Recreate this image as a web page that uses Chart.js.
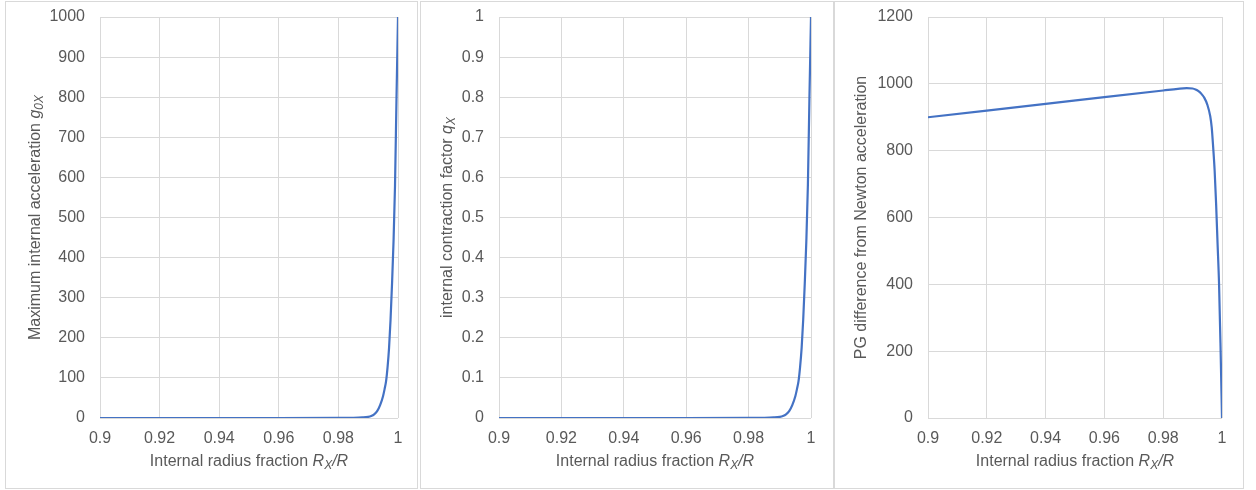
<!DOCTYPE html>
<html>
<head>
<meta charset="utf-8">
<script src="https://cdn.jsdelivr.net/npm/chart.js@4.4.1/dist/chart.umd.min.js"></script>
<style>
  body { margin: 0; background: #fff; }
  .panel { position: absolute; top: 1px; border: 1px solid #d9d9d9; background: #fff; }
  canvas { display: block; }
</style>
</head>
<body>
<div class="panel" style="left:5px"><canvas id="c1" width="411" height="486"></canvas></div>
<div class="panel" style="left:420px"><canvas id="c2" width="412" height="486"></canvas></div>
<div class="panel" style="left:834px"><canvas id="c3" width="408" height="486"></canvas></div>
<script>
// shared x axis
const xTicks = [0.9, 0.92, 0.94, 0.96, 0.98, 1];
const xTickLabels = ['0.9', '0.92', '0.94', '0.96', '0.98', '1'];

// panel 1: maximum internal acceleration
const accX = [0.9, 0.92, 0.94, 0.96, 0.98, 0.985, 0.988, 0.99, 0.991, 0.992, 0.993, 0.994, 0.995, 0.9955, 0.996, 0.9965, 0.997, 0.9975, 0.998, 0.9985, 0.999, 0.9995, 1];
const accY = [0, 0, 0, 0, 0.2, 0.6, 1.5, 3, 5, 9, 17, 32, 55, 72, 92, 127, 175, 245, 335, 440, 580, 800, 1000];
const accTicks = [0, 100, 200, 300, 400, 500, 600, 700, 800, 900, 1000];

// panel 2: internal contraction factor
const qX = [0.9, 0.92, 0.94, 0.96, 0.98, 0.985, 0.988, 0.99, 0.991, 0.992, 0.993, 0.994, 0.995, 0.9955, 0.996, 0.9965, 0.997, 0.9975, 0.998, 0.9985, 0.999, 0.9995, 1];
const qY = [0, 0, 0, 0, 0.0002, 0.0006, 0.0015, 0.003, 0.005, 0.009, 0.017, 0.032, 0.055, 0.072, 0.092, 0.127, 0.175, 0.245, 0.335, 0.44, 0.58, 0.8, 1];
const qTicks = [0, 0.1, 0.2, 0.3, 0.4, 0.5, 0.6, 0.7, 0.8, 0.9, 1];
const qTickLabels = ['0', '0.1', '0.2', '0.3', '0.4', '0.5', '0.6', '0.7', '0.8', '0.9', '1'];

// panel 3: PG difference from Newton acceleration
const pgX = [0.9, 0.92, 0.94, 0.96, 0.98, 0.985, 0.988, 0.99, 0.991, 0.992, 0.993, 0.994, 0.995, 0.996, 0.9965, 0.997, 0.9975, 0.998, 0.9985, 0.999, 0.9995, 1];
const pgY = [900, 920, 940, 960, 980, 985, 987, 986, 983, 978, 970, 958, 938, 903, 870, 810, 740, 640, 520, 400, 215, 0];
const pgTicks = [0, 200, 400, 600, 800, 1000, 1200];

const FONT = "'Liberation Sans', Arial, sans-serif";
const TEXT = '#595959';
const GRID = '#d9d9d9';

const xTitle = [
  { t: 'Internal radius fraction ' },
  { t: 'R', it: true },
  { t: 'X', it: true, sub: true },
  { t: '/', it: true },
  { t: 'R', it: true }
];

function drawRich(ctx, segs, cx, cy, rot) {
  const fontOf = s => (s.it ? 'italic ' : '') + (s.sub ? 12 : 16) + 'px ' + FONT;
  let total = 0;
  const widths = segs.map(s => {
    ctx.font = fontOf(s);
    const w = ctx.measureText(s.t).width;
    total += w;
    return w;
  });
  ctx.save();
  ctx.translate(cx, cy);
  ctx.rotate(rot);
  ctx.fillStyle = TEXT;
  ctx.textBaseline = 'middle';
  ctx.textAlign = 'left';
  let x = -total / 2;
  segs.forEach((s, i) => {
    ctx.font = fontOf(s);
    ctx.fillText(s.t, x, s.sub ? 4 : 0);
    x += widths[i];
  });
  ctx.restore();
}

const richTitles = {
  id: 'richTitles',
  afterDraw(chart, args, opts) {
    const a = chart.chartArea;
    const ctx = chart.ctx;
    drawRich(ctx, xTitle, (a.left + a.right) / 2, a.bottom + 44, 0);
    drawRich(ctx, opts.y, opts.yPos, (a.top + a.bottom) / 2, -Math.PI / 2);
  }
};

function makeChart(id, xs, ys, yTicks, yLabels, yWidth, rightPad, yTitle, yPos) {
  new Chart(document.getElementById(id), {
    type: 'line',
    data: {
      datasets: [{
        data: xs.map((x, i) => ({ x: x, y: ys[i] })),
        borderColor: '#4472c4',
        borderWidth: 2.2,
        pointRadius: 0,
        cubicInterpolationMode: 'monotone',
        fill: false
      }]
    },
    options: {
      responsive: false,
      animation: false,
      layout: { padding: { top: 15, right: rightPad, left: 0, bottom: 0 } },
      plugins: {
        legend: { display: false },
        tooltip: { enabled: false },
        richTitles: { y: yTitle, yPos: yPos }
      },
      scales: {
        x: {
          type: 'linear',
          min: xTicks[0],
          max: xTicks[xTicks.length - 1],
          afterBuildTicks: s => { s.ticks = xTicks.map(v => ({ value: v })); },
          afterFit: s => { s.height = 70; s.paddingLeft = 0; s.paddingRight = 0; },
          ticks: {
            autoSkip: false,
            maxRotation: 0,
            padding: 11,
            color: TEXT,
            font: { family: FONT, size: 16 },
            callback: (v, i) => xTickLabels[i]
          },
          grid: { color: GRID, lineWidth: 1, drawTicks: false },
          border: { display: false }
        },
        y: {
          min: yTicks[0],
          max: yTicks[yTicks.length - 1],
          afterBuildTicks: s => { s.ticks = yTicks.map(v => ({ value: v })); },
          afterFit: s => { s.width = yWidth; s.paddingTop = 0; s.paddingBottom = 0; },
          ticks: {
            autoSkip: false,
            padding: 15,
            color: TEXT,
            font: { family: FONT, size: 16 },
            callback: (v, i) => yLabels[i]
          },
          grid: { color: GRID, lineWidth: 1, drawTicks: false },
          border: { display: false }
        }
      }
    },
    plugins: [richTitles]
  });
}

makeChart('c1', accX, accY, accTicks, accTicks.map(String), 94, 19,
  [{ t: 'Maximum internal acceleration ' }, { t: 'g', it: true }, { t: '0X', it: true, sub: true }], 30);
makeChart('c2', qX, qY, qTicks, qTickLabels, 78, 22,
  [{ t: 'internal contraction factor ' }, { t: 'q', it: true }, { t: 'X', it: true, sub: true }], 27);
makeChart('c3', pgX, pgY, pgTicks, pgTicks.map(String), 93, 21,
  [{ t: 'PG difference from Newton acceleration' }], 27);
</script>
</body>
</html>
